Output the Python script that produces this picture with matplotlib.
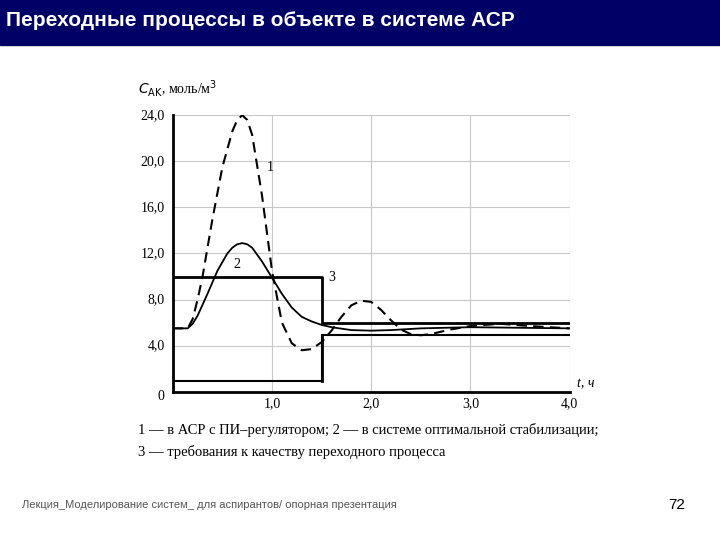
import matplotlib.pyplot as plt

# кривая 1 — АСР с ПИ-регулятором (штрих)
t1 = [0, 0.15, 0.2, 0.25, 0.3, 0.4, 0.5, 0.6, 0.65, 0.7, 0.75, 0.8, 0.9, 1.0, 1.1, 1.2,
      1.3, 1.4, 1.5, 1.6, 1.7, 1.8, 1.9, 2.0, 2.1, 2.2, 2.3, 2.4, 2.5, 2.6, 2.8, 3.0,
      3.3, 3.6, 4.0]
c1 = [5.5, 5.5, 6.3, 8.0, 10, 15, 19.5, 22.6, 23.6, 24, 23.6, 22.3, 17, 10.5, 6, 4.2,
      3.6, 3.7, 4.3, 5.3, 6.5, 7.5, 7.9, 7.8, 7.1, 6.2, 5.4, 5.0, 4.9, 5.0, 5.4, 5.7,
      5.9, 5.7, 5.5]
# кривая 2 — система оптимальной стабилизации
t2 = [0, 0.15, 0.2, 0.25, 0.35, 0.45, 0.55, 0.6, 0.65, 0.7, 0.75, 0.8, 0.9, 1.0, 1.1,
      1.2, 1.3, 1.4, 1.5, 1.6, 1.8, 2.0, 2.2, 2.5, 3.0, 3.5, 4.0]
c2 = [5.5, 5.5, 5.9, 6.6, 8.5, 10.5, 12.0, 12.5, 12.8, 12.9, 12.8, 12.5, 11.3, 9.9,
      8.5, 7.3, 6.5, 6.1, 5.8, 5.6, 5.35, 5.3, 5.35, 5.5, 5.6, 5.55, 5.5]
# кривая 3 — требования (верхняя и нижняя границы)
t_up = [0, 1.5, 1.5, 4.0]
c_up = [10, 10, 6, 6]
t_lo = [0, 1.5, 1.5, 4.0]
c_lo = [0.9, 0.9, 4.9, 4.9]

fig = plt.figure(figsize=(7.2, 5.4), dpi=100)
serif = 'Liberation Serif'

# заголовок слайда
fig.patches.append(plt.Rectangle((0, 1 - 45/540), 1, 45/540, transform=fig.transFigure,
                                 color='#000066', zorder=0))
fig.text(0.008, 1 - 20/540, 'Переходные процессы в объекте в системе АСР', color='white',
         fontsize=15, fontweight='bold', family='Liberation Sans', va='center')

ax = fig.add_axes([0.240, 0.2746, 0.551, 0.512])
ax.set_xlim(0, 4)
ax.set_ylim(0, 24)
ax.grid(True, color='#c8c8c8', lw=0.8)
ax.set_xticks([1, 2, 3, 4])
ax.set_yticks([4, 8, 12, 16, 20, 24])
ax.set_xticklabels([])
ax.set_yticklabels([])
ax.tick_params(length=0)
for s in ['top', 'right']:
    ax.spines[s].set_visible(False)
ax.spines['left'].set_linewidth(2)
ax.spines['bottom'].set_linewidth(2)

ax.plot(t1, c1, color='black', lw=1.5, ls=(0, (5, 3)))
ax.plot(t2, c2, color='black', lw=1.3)
ax.plot(t_up, c_up, color='black', lw=2)
ax.plot(t_lo, c_lo, color='black', lw=1.5)
ax.plot([1.5, 1.5], [0.9, 4.9], color='black', lw=2)

ax.text(0.98, 19.5, '1', fontsize=10, family=serif, ha='center', va='center')
ax.text(0.65, 11, '2', fontsize=10, family=serif, ha='center', va='center')
ax.text(1.6, 9.9, '3', fontsize=10, family=serif, ha='center', va='center')

for v in [4, 8, 12, 16, 20, 24]:
    ax.text(-0.08, v, f'{v},0', fontsize=10, family=serif, ha='right', va='center')
ax.text(-0.08, -0.4, '0', fontsize=10, family=serif, ha='right', va='center')
for v in [1, 2, 3, 4]:
    ax.text(v, -1.0, f'{v},0', fontsize=10, family=serif, ha='center', va='center')
ax.text(4.08, 0.4, 't, ч', fontsize=10, family=serif, style='italic', ha='left')
ax.text(-0.35, 26.3, r'$C_{\mathrm{AK}}$, моль/м$^3$', fontsize=10, family=serif,
        ha='left', va='center')

fig.text(138/720, 1 - 430/540,
         '1 — в АСР с ПИ–регулятором; 2 — в системе оптимальной стабилизации;',
         fontsize=10.5, family=serif, va='center')
fig.text(138/720, 1 - 452/540, '3 — требования к качеству переходного процесса',
         fontsize=10.5, family=serif, va='center')

fig.text(22/720, 1 - 505/540,
         'Лекция_Моделирование систем_ для аспирантов/ опорная презентация',
         fontsize=8, color='#555555', family='Liberation Sans', va='center')
fig.text(668/720, 1 - 505/540, '72', fontsize=11, color='black',
         family='Liberation Sans', va='center')

plt.savefig('out.png', dpi=100)
